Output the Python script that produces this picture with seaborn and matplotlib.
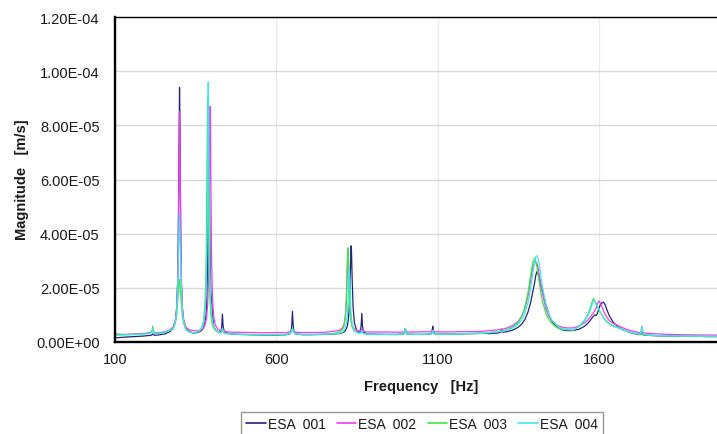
import numpy as np
import pandas as pd
import matplotlib
matplotlib.use("Agg")
import matplotlib.pyplot as plt
from matplotlib.lines import Line2D
from matplotlib.ticker import FuncFormatter
import seaborn as sns

# ---------------------------------------------------------------------------
# Spectrum data: a shared frequency grid (Hz) and one magnitude list per
# sensor, given in units of 1e-5 m/s.
# ---------------------------------------------------------------------------
MAG_UNIT = 1e-5

FREQ_HZ = [
    100, 130, 160, 190, 205, 212, 215, 217, 219, 222, 235, 255, 270,
    280, 287, 291, 294, 296, 298, 299, 300, 301, 302, 304, 306, 309, 313, 320, 330,
    345, 360, 368, 374, 378, 381, 383, 385, 386, 387, 388, 389, 390, 391, 392, 393,
    394, 395, 396, 397, 399, 402, 406, 411, 418, 425,
    429, 431, 433, 435, 438, 445, 460,
    480, 520, 560, 600, 630, 642,
    646, 648, 650, 652, 654, 660, 680,
    710, 750, 780, 795,
    805, 810, 814, 817, 819, 821, 822, 823, 825, 826, 827, 829, 831, 832, 833, 835,
    838, 842, 848, 856,
    861, 863, 865, 867, 870, 880,
    900, 940, 975, 995, 998, 1000, 1002, 1006, 1030, 1060, 1080, 1083, 1085, 1087,
    1092, 1120, 1160, 1200, 1230,
    1260, 1285, 1296, 1299, 1302, 1315, 1335, 1350, 1360, 1370, 1380, 1388, 1395,
    1400, 1404, 1408, 1412, 1418, 1425, 1435, 1445, 1455, 1470, 1485, 1500, 1520,
    1540, 1555, 1565, 1572, 1578, 1583, 1587, 1591, 1595, 1600, 1605, 1610, 1614,
    1619, 1625, 1633, 1645, 1660, 1675, 1690, 1705, 1720,
    1728, 1731, 1733, 1735, 1738, 1750, 1780, 1820, 1860, 1900, 1940, 1980, 2000,
]

MAG_001 = [
    0.15, 0.18, 0.20, 0.22, 0.24, 0.25, 0.27, 0.30, 0.27, 0.25, 0.26, 0.30, 0.38,
    0.50, 0.76, 1.21, 2.12, 3.57, 6.60, 8.50, 9.40, 8.50, 6.60, 3.57, 2.12, 1.21, 0.76, 0.50, 0.39,
    0.32, 0.37, 0.42, 0.52, 0.67, 0.91, 1.20, 1.77, 2.25, 2.95, 3.98, 5.39, 6.92, 7.65, 6.92, 5.39,
    3.98, 2.95, 2.25, 1.85, 1.60, 1.00, 0.58, 0.46, 0.39, 0.36,
    0.42, 0.60, 1.03, 0.60, 0.40, 0.33, 0.30,
    0.28, 0.27, 0.26, 0.26, 0.27, 0.30,
    0.42, 0.65, 1.13, 0.65, 0.42, 0.30, 0.27,
    0.27, 0.28, 0.30, 0.31,
    0.34, 0.37, 0.42, 0.49, 0.55, 0.65, 0.72, 0.81, 1.08, 1.28, 1.55, 2.37, 3.36, 3.55, 3.36, 2.37,
    1.28, 0.72, 0.46, 0.36,
    0.40, 0.62, 1.06, 0.60, 0.36, 0.30,
    0.29, 0.28, 0.28, 0.30, 0.38, 0.50, 0.36, 0.29, 0.28, 0.28, 0.31, 0.42, 0.58, 0.38,
    0.30, 0.29, 0.30, 0.31, 0.32,
    0.31, 0.33, 0.36, 0.48, 0.36, 0.38, 0.45, 0.55, 0.65, 0.82, 1.10, 1.45, 1.85,
    2.15, 2.45, 2.60, 2.50, 2.15, 1.90, 1.40, 1.00, 0.75, 0.55, 0.45, 0.42, 0.42,
    0.48, 0.58, 0.68, 0.78, 0.88, 0.95, 1.00, 0.98, 1.05, 1.25, 1.40, 1.45, 1.47,
    1.38, 1.18, 0.95, 0.72, 0.55, 0.45, 0.38, 0.32, 0.29,
    0.27, 0.30, 0.38, 0.30, 0.26, 0.25, 0.23, 0.22, 0.21, 0.21, 0.20, 0.20, 0.20,
]

MAG_002 = [
    0.30, 0.28, 0.30, 0.32, 0.34, 0.36, 0.40, 0.45, 0.40, 0.35, 0.34, 0.38, 0.45,
    0.55, 0.80, 1.25, 2.15, 3.55, 6.20, 7.60, 8.50, 7.80, 6.30, 3.60, 2.15, 1.25, 0.80, 0.55, 0.45,
    0.42, 0.41, 0.45, 0.52, 0.60, 0.72, 0.84, 1.04, 1.19, 1.38, 1.64, 2.02, 2.56, 3.35, 4.53, 6.13,
    7.87, 8.70, 7.87, 6.13, 3.35, 1.64, 0.93, 0.63, 0.49, 0.43,
    0.42, 0.45, 0.52, 0.45, 0.40, 0.38, 0.36,
    0.36, 0.35, 0.34, 0.35, 0.34, 0.38,
    0.40, 0.42, 0.48, 0.42, 0.40, 0.36, 0.35,
    0.35, 0.36, 0.40, 0.43,
    0.52, 0.66, 0.97, 1.55, 2.31, 3.23, 3.41, 3.23, 2.31, 1.89, 1.55, 1.11, 0.86, 0.78, 0.72, 0.62,
    0.54, 0.48, 0.44, 0.41,
    0.42, 0.44, 0.48, 0.43, 0.40, 0.37,
    0.37, 0.37, 0.36, 0.37, 0.40, 0.44, 0.40, 0.37, 0.37, 0.38, 0.38, 0.40, 0.44, 0.40,
    0.38, 0.37, 0.38, 0.38, 0.39,
    0.42, 0.45, 0.47, 0.47, 0.47, 0.52, 0.62, 0.77, 0.95, 1.22, 1.70, 2.25, 2.75,
    2.92, 2.96, 2.90, 2.70, 2.25, 1.80, 1.25, 0.95, 0.78, 0.62, 0.55, 0.52, 0.52,
    0.60, 0.70, 0.80, 0.90, 1.00, 1.08, 1.15, 1.25, 1.40, 1.52, 1.42, 1.28, 1.15,
    1.02, 0.90, 0.78, 0.68, 0.60, 0.52, 0.45, 0.40, 0.36,
    0.34, 0.42, 0.58, 0.42, 0.34, 0.32, 0.30, 0.28, 0.27, 0.26, 0.26, 0.25, 0.25,
]

MAG_003 = [
    0.28, 0.27, 0.28, 0.30, 0.32, 0.36, 0.42, 0.58, 0.42, 0.33, 0.32, 0.36, 0.44,
    0.47, 0.70, 1.00, 1.50, 1.80, 2.10, 2.25, 2.30, 2.20, 2.00, 1.70, 1.40, 0.95, 0.68, 0.45, 0.36,
    0.33, 0.41, 0.51, 0.74, 1.17, 2.04, 3.43, 6.32, 8.13, 9.00, 8.13, 6.32, 4.65, 3.43, 2.61, 2.04,
    1.65, 1.37, 1.17, 1.02, 0.81, 0.63, 0.51, 0.43, 0.38, 0.36,
    0.34, 0.38, 0.45, 0.38, 0.33, 0.31, 0.30,
    0.29, 0.27, 0.27, 0.27, 0.27, 0.30,
    0.36, 0.42, 0.50, 0.42, 0.36, 0.30, 0.28,
    0.28, 0.29, 0.32, 0.37,
    0.45, 0.60, 0.92, 1.53, 2.33, 3.29, 3.48, 3.29, 2.33, 1.88, 1.53, 1.07, 0.81, 0.72, 0.65, 0.56,
    0.47, 0.40, 0.36, 0.33,
    0.34, 0.37, 0.42, 0.36, 0.32, 0.29,
    0.28, 0.28, 0.27, 0.29, 0.34, 0.42, 0.33, 0.29, 0.28, 0.28, 0.29, 0.33, 0.38, 0.32,
    0.29, 0.28, 0.29, 0.30, 0.31,
    0.35, 0.38, 0.40, 0.41, 0.41, 0.46, 0.57, 0.73, 0.93, 1.26, 1.81, 2.44, 2.94,
    3.08, 2.99, 2.75, 2.44, 1.96, 1.50, 1.07, 0.82, 0.67, 0.53, 0.46, 0.45, 0.43,
    0.60, 0.80, 1.00, 1.22, 1.45, 1.61, 1.52, 1.40, 1.30, 1.18, 1.08, 0.98, 0.90,
    0.82, 0.74, 0.66, 0.58, 0.52, 0.45, 0.38, 0.33, 0.30,
    0.28, 0.33, 0.45, 0.33, 0.27, 0.25, 0.23, 0.22, 0.21, 0.21, 0.20, 0.20, 0.20,
]

MAG_004 = [
    0.25, 0.26, 0.28, 0.29, 0.31, 0.34, 0.38, 0.48, 0.38, 0.32, 0.31, 0.35, 0.43,
    0.48, 0.72, 1.10, 1.90, 2.90, 3.80, 4.40, 4.70, 4.30, 3.60, 2.90, 1.90, 1.10, 0.72, 0.48, 0.38,
    0.33, 0.40, 0.49, 0.66, 0.94, 1.44, 2.16, 3.65, 4.95, 6.74, 8.67, 9.60, 8.67, 6.74, 4.95, 3.65,
    2.76, 2.16, 1.74, 1.44, 1.07, 0.77, 0.58, 0.47, 0.40, 0.36,
    0.35, 0.40, 0.50, 0.40, 0.34, 0.31, 0.30,
    0.29, 0.28, 0.27, 0.28, 0.28, 0.31,
    0.36, 0.42, 0.50, 0.42, 0.36, 0.30, 0.28,
    0.28, 0.29, 0.31, 0.32,
    0.36, 0.42, 0.52, 0.68, 0.87, 1.22, 1.48, 1.82, 2.54, 2.68, 2.54, 1.82, 1.22, 1.02, 0.87, 0.68,
    0.52, 0.42, 0.36, 0.32,
    0.33, 0.36, 0.42, 0.35, 0.31, 0.29,
    0.29, 0.28, 0.28, 0.30, 0.38, 0.50, 0.37, 0.30, 0.28, 0.29, 0.30, 0.35, 0.42, 0.34,
    0.30, 0.29, 0.30, 0.31, 0.32,
    0.34, 0.37, 0.39, 0.39, 0.40, 0.44, 0.53, 0.66, 0.81, 1.04, 1.45, 1.95, 2.53,
    2.93, 3.15, 3.19, 3.06, 2.62, 2.03, 1.39, 1.01, 0.79, 0.60, 0.50, 0.47, 0.45,
    0.58, 0.76, 0.95, 1.15, 1.36, 1.50, 1.55, 1.45, 1.33, 1.20, 1.10, 1.00, 0.92,
    0.84, 0.76, 0.68, 0.60, 0.53, 0.46, 0.39, 0.34, 0.31,
    0.29, 0.40, 0.58, 0.40, 0.29, 0.26, 0.24, 0.23, 0.22, 0.22, 0.21, 0.21, 0.21,
]

SERIES_NAMES = ["ESA  001", "ESA  002", "ESA  003", "ESA  004"]
SERIES_COLORS = ["#23237f", "#f23cf2", "#3fe63f", "#3fe6ee"]

X_TICKS = [100, 600, 1100, 1600]
Y_TICKS = [0.0, 2e-5, 4e-5, 6e-5, 8e-5, 1e-4, 1.2e-4]

# ---------------------------------------------------------------------------
series_values = [MAG_001, MAG_002, MAG_003, MAG_004]
for vals in series_values:
    assert len(vals) == len(FREQ_HZ)

df = pd.concat(
    [
        pd.DataFrame({
            "Frequency": FREQ_HZ,
            "Magnitude": np.asarray(vals) * MAG_UNIT,
            "Series": name,
        })
        for name, vals in zip(SERIES_NAMES, series_values)
    ],
    ignore_index=True,
)

sns.set_theme(style="white")
plt.rcParams["font.family"] = ["Liberation Sans", "DejaVu Sans"]

W, H = 717, 435
fig = plt.figure(figsize=(W / 100, H / 100), dpi=100)
# plot area: left edge at x=115 px, 500 Hz per 161.3 px; runs off the right edge
ax = fig.add_axes([115 / W, 1 - 343 / H, 613 / W, 325 / H])

palette = dict(zip(SERIES_NAMES, SERIES_COLORS))
sns.lineplot(
    data=df, x="Frequency", y="Magnitude", hue="Series",
    hue_order=SERIES_NAMES, palette=palette,
    estimator=None, sort=False, linewidth=0.9, legend=False, ax=ax,
)

ax.set_xlim(100, 2000)
ax.set_ylim(0, 1.2e-4)
ax.set_xticks(X_TICKS)
ax.set_yticks(Y_TICKS)
ax.yaxis.set_major_formatter(FuncFormatter(lambda v, p: f"{v:.2E}"))
ax.set_xlabel("")
ax.set_ylabel("")

ax.grid(axis="y", color="#d9d9d9", linewidth=1.0)
ax.grid(axis="x", color="#ebebeb", linewidth=0.9)
ax.set_axisbelow(True)

for side in ("left", "bottom"):
    ax.spines[side].set_color("black")
    ax.spines[side].set_linewidth(1.7)
ax.spines["top"].set_color("black")
ax.spines["top"].set_linewidth(1.0)
ax.spines["right"].set_visible(False)

ax.tick_params(axis="both", direction="out", length=4, width=0.8,
               color="#808080", labelsize=10.5, labelcolor="#1a1a1a")
ax.tick_params(axis="y", pad=7)
ax.tick_params(axis="x", pad=3)

fig.text(22 / W, 1 - 180 / H, "Magnitude   [m/s]", rotation=90,
         ha="center", va="center", fontsize=10.5, fontweight="bold", color="#1a1a1a")
fig.text(421 / W, 1 - 387 / H, "Frequency   [Hz]",
         ha="center", va="center", fontsize=10.5, fontweight="bold", color="#1a1a1a")

handles = [Line2D([], [], color=c, linewidth=1.2) for c in SERIES_COLORS]
leg = fig.legend(
    handles, SERIES_NAMES, loc="upper center",
    bbox_to_anchor=(422 / W, 1 - 413 / H), bbox_transform=fig.transFigure,
    ncol=4, frameon=True, fancybox=False, edgecolor="#7f7f7f",
    fontsize=10, handlelength=1.4, handletextpad=0.15, columnspacing=0.8,
    borderpad=0.35, borderaxespad=0,
)
leg.get_frame().set_linewidth(1.0)
for t in leg.get_texts():
    t.set_color("#1a1a1a")

fig.savefig("out.png", dpi=100)
